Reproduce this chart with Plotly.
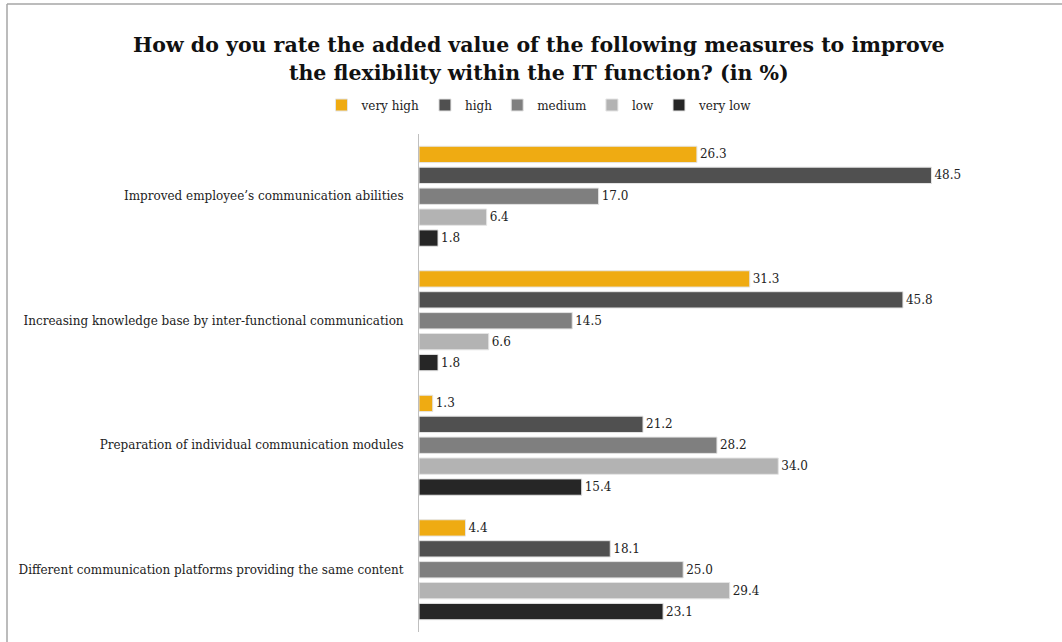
import plotly.graph_objects as go

categories = [
    "Improved employee’s communication abilities",
    "Increasing knowledge base by inter-functional communication",
    "Preparation of individual communication modules",
    "Different communication platforms providing the same content",
]
series_names = ["very high", "high", "medium", "low", "very low"]
very_high = [26.3, 31.3, 1.3, 4.4]
high = [48.5, 45.8, 21.2, 18.1]
medium = [17.0, 14.5, 28.2, 25.0]
low = [6.4, 6.6, 34.0, 29.4]
very_low = [1.8, 1.8, 15.4, 23.1]

title_lines = [
    "How do you rate the added value of the following measures to improve",
    "the flexibility within the IT function? (in %)",
]

series_values = [very_high, high, medium, low, very_low]
colors = ["#EFAB12", "#505050", "#7F7F7F", "#B3B3B3", "#262626"]

font_family = "DejaVu Serif, serif"

W, H = 1062, 642
ML, MR, MT, MB = 419, 9, 134, 10
PW, PH = W - ML - MR, H - MT - MB


def px_to_paper_x(px):
    return (px - ML) / PW


def px_to_paper_y(py):
    return (H - MB - py) / PH


fig = go.Figure()
for name, vals, col in zip(series_names, series_values, colors):
    fig.add_trace(go.Bar(
        y=categories,
        x=vals,
        name=name,
        orientation="h",
        marker=dict(color=col, line=dict(width=1, color="#E4E4E4")),
        text=[f"{v:.1f}" for v in vals],
        textposition="outside",
        textfont=dict(size=12, color="#222222", family=font_family),
        cliponaxis=False,
    ))

fig.update_layout(
    width=W,
    height=H,
    paper_bgcolor="white",
    plot_bgcolor="white",
    barmode="group",
    bargap=0.16,
    bargroupgap=0.22,
    margin=dict(l=ML, r=MR, t=MT, b=MB),
    font=dict(family=font_family, color="#222222"),
    legend=dict(
        orientation="h",
        x=0.508,
        xref="container",
        xanchor="center",
        y=1 - 105 / H,
        yref="container",
        yanchor="middle",
        font=dict(size=12, color="#222222", family=font_family),
        itemwidth=30,
        traceorder="normal",
    ),
    xaxis=dict(
        range=[0, 60],
        visible=False,
        showgrid=False,
        zeroline=False,
    ),
    yaxis=dict(
        autorange="reversed",
        showline=True,
        linecolor="#BFBFBF",
        linewidth=1,
        ticks="",
        showgrid=False,
        tickfont=dict(size=12, color="#222222", family=font_family),
        ticklabelstandoff=12,
    ),
    showlegend=True,
)

# two-line chart title
for line, py in zip(title_lines, [45, 73]):
    fig.add_annotation(
        text=f"<b>{line}</b>",
        xref="paper", yref="paper",
        x=px_to_paper_x(539), y=px_to_paper_y(py),
        xanchor="center", yanchor="middle",
        showarrow=False,
        font=dict(size=20.5, color="#111111", family=font_family),
    )

# outer frame lines along the top and left edges
top_y = px_to_paper_y(4)
left_x = px_to_paper_x(7)
fig.add_shape(type="line", xref="paper", yref="paper",
              x0=left_x, x1=1.1, y0=top_y, y1=top_y,
              line=dict(color="#A6A6A6", width=1.5))
fig.add_shape(type="line", xref="paper", yref="paper",
              x0=left_x, x1=left_x, y0=-0.1, y1=top_y,
              line=dict(color="#A6A6A6", width=1.5))

fig.write_html("out.html")
